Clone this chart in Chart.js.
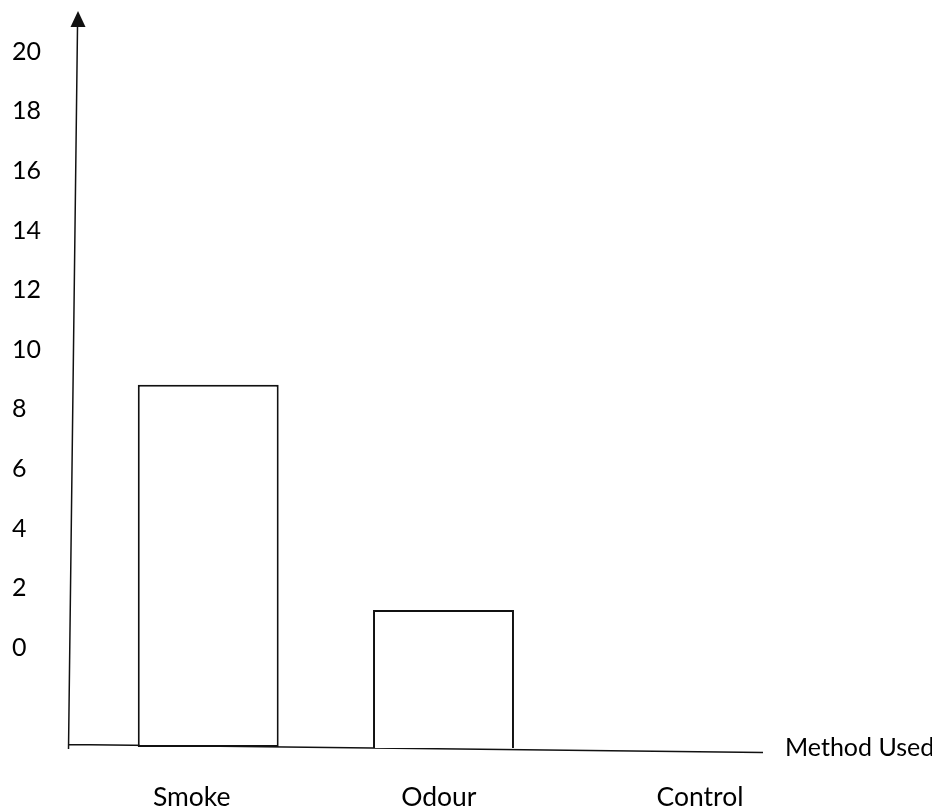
<!DOCTYPE html>
<html lang="en">
<head>
<meta charset="UTF-8">
<title>Method Used</title>
<script src="https://cdn.jsdelivr.net/npm/chart.js"></script>
<style>
    * { margin: 0; padding: 0; box-sizing: border-box; }
    body { background: #fff; width: 932px; height: 808px; overflow: hidden; }
    #chart { display: block; }
</style>
</head>
<body>
<canvas id="chart" width="932" height="808"></canvas>
<script>
// values read off the printed scale; Control has no bar
const methods = ['Smoke', 'Odour', 'Control'];
const barTops = [8.82, 1.26, null];
// bars stand on the drawn x axis, which sits below the printed 0
const barBottoms = [-3.34, -3.47, null];
const yTicks = [0, 2, 4, 6, 8, 10, 12, 14, 16, 18, 20];
const xTitle = 'Method Used';

// layout only: where the hand-placed names sit, in category units
const labelSpots = [-0.07, 0.98, 2.09];

Chart.defaults.font.family = 'Lato, "Open Sans", sans-serif';
Chart.defaults.font.size = 25;
Chart.defaults.color = '#000';

// the axes in the picture are drawn by hand and lean a little
const handAxes = {
    id: 'handAxes',
    beforeDatasetsDraw(chart) {
        const { ctx, chartArea: { left, right, top, bottom } } = chart;
        ctx.save();
        ctx.strokeStyle = '#111';
        ctx.fillStyle = '#111';
        ctx.lineWidth = 1.5;
        ctx.beginPath();
        ctx.moveTo(left + 0.5, bottom + 1);
        ctx.lineTo(left + 9.5, top + 16);
        ctx.moveTo(left, bottom - 3.5);
        ctx.lineTo(right, bottom + 4.5);
        ctx.stroke();
        // arrow head
        ctx.beginPath();
        ctx.moveTo(left + 10, top);
        ctx.lineTo(left + 2.5, top + 16);
        ctx.lineTo(left + 17.5, top + 16);
        ctx.closePath();
        ctx.fill();
        ctx.fillStyle = '#000';
        ctx.font = '25px Lato, "Open Sans", sans-serif';
        ctx.textAlign = 'left';
        ctx.textBaseline = 'middle';
        ctx.fillText(xTitle, right + 22, bottom);
        ctx.restore();
    }
};

new Chart(document.getElementById('chart'), {
    type: 'bar',
    data: {
        labels: methods.map((_, i) => i),
        datasets: [{
            data: barTops.map((v, i) => v == null ? null : [barBottoms[i], v]),
            backgroundColor: '#fff',
            borderColor: '#111',
            borderWidth: 2,
            borderSkipped: false,
            barPercentage: 0.599,
            categoryPercentage: 1
        }]
    },
    options: {
        responsive: false,
        animation: false,
        devicePixelRatio: 1,
        layout: { padding: { left: 12, top: 11, right: 169, bottom: 0 } },
        plugins: { legend: { display: false }, tooltip: { enabled: false } },
        scales: {
            x: {
                type: 'linear',
                offset: false,
                min: -0.596,
                max: 2.358,
                bounds: 'data',
                grid: { display: false, offset: false },
                border: { display: false },
                ticks: {
                    padding: 26,
                    autoSkip: false,
                    maxRotation: 0,
                    font: { size: 26.5 },
                    callback: (v, i) => methods[i]
                },
                afterBuildTicks: s => { s.ticks = labelSpots.map(v => ({ value: v })); },
                afterFit: s => { s.height = 60; s.paddingLeft = 0; s.paddingRight = 0; }
            },
            y: {
                type: 'linear',
                min: -3.37,
                max: 21.37,
                bounds: 'data',
                grid: { display: false },
                border: { display: false },
                ticks: {
                    crossAlign: 'far',
                    padding: 0,
                    callback: v => v
                },
                afterBuildTicks: s => { s.ticks = yTicks.map(v => ({ value: v })); },
                afterFit: s => { s.width = 56; s.paddingTop = 0; s.paddingBottom = 0; }
            }
        }
    },
    plugins: [handAxes]
});
</script>
</body>
</html>
